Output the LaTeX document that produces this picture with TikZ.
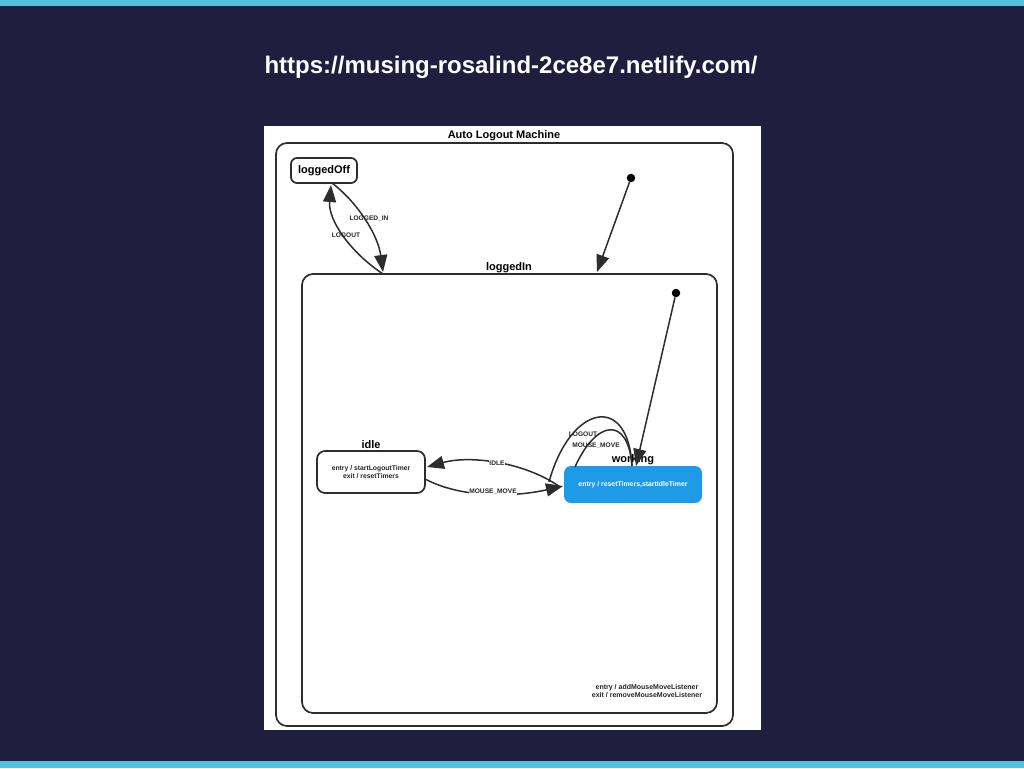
\documentclass[tikz,border=0pt]{standalone}
\usepackage{fontspec}
\setmainfont{Liberation Sans}
\usetikzlibrary{arrows.meta}
\definecolor{navy}{RGB}{31,30,62}
\definecolor{barcyan}{RGB}{82,193,217}
\definecolor{stroke}{RGB}{45,45,45}
\definecolor{wblue}{RGB}{30,155,230}
\tikzset{
  statebox/.style={draw=stroke, line width=1.7pt, rounded corners=#1, inner sep=0pt},
  statebox/.default=8pt,
  lbl/.style={font=\bfseries\fontsize{11}{13}\selectfont, text=black, inner sep=0pt},
  tiny/.style={font=\bfseries\fontsize{6.6}{7.2}\selectfont, text=black!85, inner sep=0.8pt, align=center},
  edge/.style={draw=stroke, line width=1.5pt},
  arr/.style={edge, -{Triangle[length=17pt,width=13pt]}},
  dot/.style={circle, fill=black, minimum size=8.5pt, inner sep=0pt},
}
\begin{document}
\begin{tikzpicture}[x=1pt,y=-1pt]
\useasboundingbox (0,0) rectangle (1024,768);
\fill[navy] (0,0) rectangle (1024,768);
\fill[barcyan] (0,0) rectangle (1024,6);
\fill[barcyan] (0,761) rectangle (1024,768);
\node (url) [font=\bfseries\fontsize{24}{28}\selectfont, text=white, inner sep=0pt] at (511,67) {https://musing-rosalind-2ce8e7.netlify.com/};
\fill[white] (264,126) rectangle (761,730);

% containers
\node (outer) [statebox=11pt, minimum width=457pt, minimum height=583pt] at (504.5,434.5) {};
\node (title) [lbl] at (504,136) {Auto Logout Machine};
\node (inner) [statebox=11pt, minimum width=415pt, minimum height=439pt] at (509.5,493.5) {};
\node (innerlbl) [lbl] at (509,268) {loggedIn};

% states
\node (off) [statebox=6pt, minimum width=66pt, minimum height=25pt, lbl] at (324,170.5) {loggedOff};
\node (idle) [statebox=8pt, minimum width=108pt, minimum height=42pt, tiny, font=\bfseries\fontsize{6.8}{8.5}\selectfont] at (371,472) {entry / startLogoutTimer\\exit / resetTimers};
\node (idlelbl) [lbl] at (371,445) {idle};
\node (work) [rounded corners=7pt, fill=wblue, minimum width=138pt, minimum height=37pt, inner sep=0pt,
  font=\bfseries\fontsize{6.9}{8}\selectfont, text=white] at (633,484.5) {entry / resetTimers,startIdleTimer};
\node (worklbl) [lbl] at (633,460) {working};
\node (actions) [tiny, font=\bfseries\fontsize{7}{7.4}\selectfont] at (647,691) {entry / addMouseMoveListener\\exit / removeMouseMoveListener};

% initial states
\node (init1) [dot] at (631,178) {};
\node (init2) [dot] at (676,293) {};
\coordinate (intop) at (597,272);
\coordinate (worktop) at (636,466);
\draw[arr] (init1) -- (intop);
\draw[arr] (init2) -- (worktop);

% loggedOff <-> loggedIn
\coordinate (offb) at (332,183);
\coordinate (offtip) at (331,185);
\coordinate (intip) at (383,272);
\coordinate (instart) at (383,274);
\draw[arr] (offb) .. controls (358,203) and (378,235) .. (intip);
\draw[arr] (instart) .. controls (350,252) and (328,220) .. (offtip);
\node (lblin) [tiny] at (369,219) {LOGGED\_IN};
\node (lblout) [tiny] at (346,235) {LOGOUT};

% idle <-> working
\coordinate (wl1) at (560,487);
\coordinate (wl2) at (563,486);
\coordinate (idleR1) at (427,467);
\coordinate (idleR2) at (425,479);
\draw[arr] (wl1) .. controls (525,462) and (470,455) .. (idleR1);
\draw[arr] (idleR2) .. controls (465,500) and (520,496) .. (wl2);
\node (lblidle) [tiny, fill=white] at (497,463) {IDLE};
\node (lblmm) [tiny, fill=white] at (493,492) {MOUSE\_MOVE};

% self loops on working
\coordinate (wtop) at (632,466);
\coordinate (loopA) at (549,482);
\coordinate (loopB) at (575,467);
\draw[edge] (wtop) .. controls (628,392) and (570,405) .. (loopA);
\draw[edge] (wtop) .. controls (628,415) and (596,420) .. (loopB);
\node (lbllo) [tiny] at (583,434) {LOGOUT};
\node (lblmm2) [tiny] at (596,446) {MOUSE\_MOVE};
\end{tikzpicture}
\end{document}
